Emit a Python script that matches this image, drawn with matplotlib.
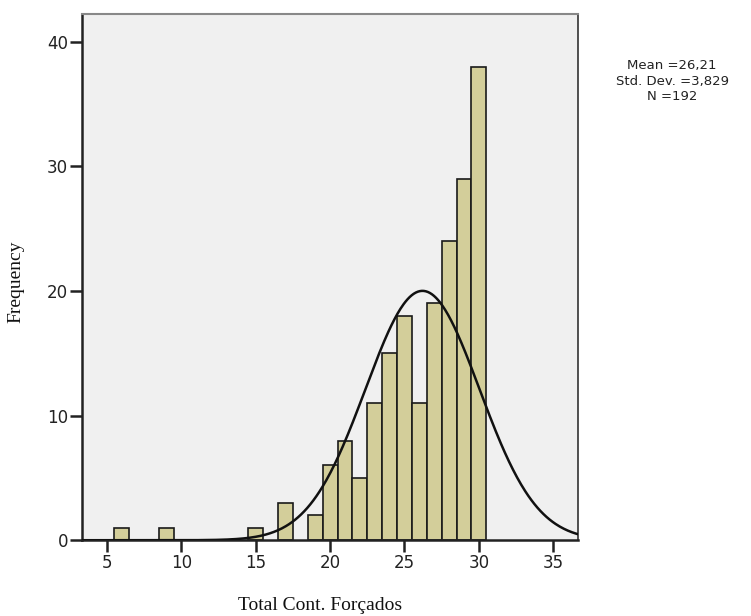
import numpy as np
import matplotlib
matplotlib.use("Agg")
import matplotlib.pyplot as plt

values = [6, 9, 15, 17, 19, 20, 21, 22, 23, 24, 25, 26, 27, 28, 29, 30]
counts = [1, 1, 1, 3, 2, 6, 8, 5, 11, 15, 18, 11, 19, 24, 29, 38]
mean = 26.21
std = 3.829
n = 192
xticks = [5, 10, 15, 20, 25, 30, 35]
yticks = [0, 10, 20, 30, 40]

fig = plt.figure(figsize=(7.51, 6.16), dpi=100)
ax = fig.add_axes([0.109, 0.123, 0.661, 0.854])
ax.set_facecolor("#f0f0f0")

ax.bar(values, counts, width=1.0, color="#d3ce9a", edgecolor="#1a1a1a", linewidth=1.2, zorder=2)

xs = np.linspace(3.0, 37.0, 500)
ys = n * 1.0 / (std * np.sqrt(2 * np.pi)) * np.exp(-0.5 * ((xs - mean) / std) ** 2)
ax.plot(xs, ys, color="#111111", linewidth=1.8, zorder=3)

ax.set_xlim(3.32, 36.68)
ax.set_ylim(0, 42.2)
ax.set_xticks(xticks)
ax.set_yticks(yticks)
ax.tick_params(direction="out", length=8.5, width=1.8, colors="#222222", labelsize=12, pad=1.5)
for lab in ax.get_xticklabels() + ax.get_yticklabels():
    lab.set_family("DejaVu Sans")
    lab.set_color("#222222")

for s in ["left", "bottom"]:
    ax.spines[s].set_linewidth(1.8)
    ax.spines[s].set_color("#222222")
ax.spines["top"].set_color("#888888")
ax.spines["top"].set_linewidth(1.5)
ax.spines["right"].set_color("#333333")
ax.spines["right"].set_linewidth(1.2)

fig.text(320/751, 1 - 605/616, "Total Cont. Forçados", family="Liberation Serif",
         fontsize=14, ha="center", va="center", color="#111111")
fig.text(16/751, 1 - 282/616, "Frequency", family="Liberation Serif",
         fontsize=14, ha="center", va="center", rotation=90, color="#111111")

fig.text(672/751, 1 - 81/616, "Mean =26,21\nStd. Dev. =3,829\nN =192",
         ha="center", va="center", family="DejaVu Sans", fontsize=9.5,
         linespacing=1.2, color="#222222")

fig.savefig("out.png", dpi=100, facecolor="white")
